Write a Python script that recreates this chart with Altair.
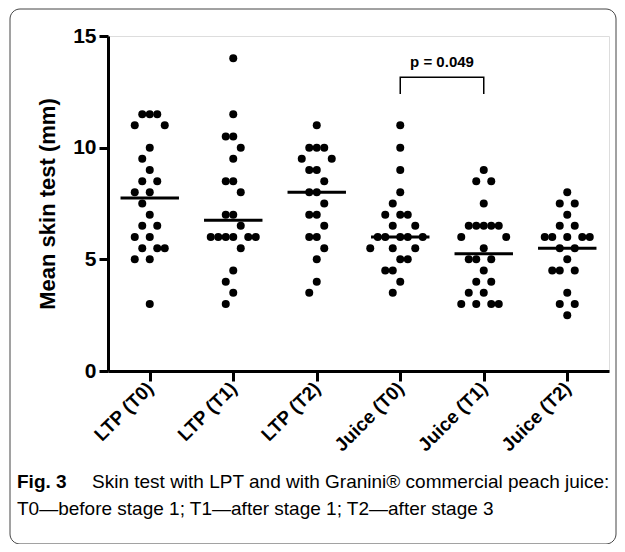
import json
import altair as alt
import pandas as pd

# ---------------- data ----------------
groups = ["LTP (T0)", "LTP (T1)", "LTP (T2)", "Juice (T0)", "Juice (T1)", "Juice (T2)"]

ltp_t0 = [11.5, 11.5, 11.5, 11, 11, 10, 9.5, 9, 8.5, 8.5, 8, 8, 7.5, 7, 6.5, 6.5,
          6, 6, 5.5, 5.5, 5.5, 5, 5, 3]
ltp_t1 = [14, 11.5, 10.5, 10.5, 10, 9.5, 8.5, 8.5, 8, 7, 7, 6.5, 6, 6, 6, 6, 6, 6,
          5.5, 4.5, 4, 3.5, 3]
ltp_t2 = [11, 10, 10, 10, 9.5, 9.5, 9, 9, 8.5, 8, 8, 7.5, 7, 7, 6.5, 6, 6, 5.5, 5,
          4, 3.5]
juice_t0 = [11, 10, 9, 8, 7.5, 7, 7, 7, 6.5, 6.5, 6, 6, 6, 6, 6, 5.5, 5.5, 5.5, 5, 5,
            4.5, 4.5, 4, 3.5]
juice_t1 = [9, 8.5, 8.5, 7.5, 6.5, 6.5, 6.5, 6.5, 6.5, 6, 6, 5.5, 5, 5, 5, 4.5, 4, 4,
            3.5, 3.5, 3, 3, 3, 3]
juice_t2 = [8, 7.5, 7.5, 7, 6.5, 6.5, 6, 6, 6, 6, 6, 5.5, 5.5, 5, 4.5, 4.5, 4.5, 3.5,
            3, 3, 2.5]
series = [ltp_t0, ltp_t1, ltp_t2, juice_t0, juice_t1, juice_t2]

medians = [7.75, 6.75, 8, 6, 5.25, 5.5]

p_label = "p = 0.049"
p_pair = [3, 4]            # Juice (T0) vs Juice (T1)
p_bracket = [12.4, 13.15]  # leg bottom, bracket top (mm)

y_ticks = [0, 5, 10, 15]
y_title = "Mean skin test (mm)"
caption_bold = "Fig. 3"
caption_1 = "Skin test with LPT and with Granini® commercial peach juice:"
caption_2 = "T0\u2014before stage 1; T1\u2014after stage 1; T2\u2014after stage 3"

# ---------------- layout ----------------
W, H = 501, 335
PX_X = W / len(groups)
PX_Y = H / 15.0
STEP, WX, WY = 7.5, 7.4, 16.0

rows = []
for gi, (g, vals) in enumerate(zip(groups, series)):
    placed = []
    for v in sorted(vals, reverse=True):
        cands = [0] + [s * i for i in range(1, 12) for s in (-1, 1)]
        dx = 0.0
        for c in cands:
            dx = c * STEP
            ok = True
            for (px, pv) in placed:
                a = (dx - px) / WX
                b = (v - pv) * PX_Y / WY
                if a * a + b * b < 1:
                    ok = False
                    break
            if ok:
                break
        placed.append((dx, v))
        rows.append({"group": g, "gi": gi, "xpos": gi + dx / PX_X, "value": v})
points = pd.DataFrame(rows)

med_df = pd.DataFrame({"group": groups, "gi": list(range(len(groups))), "median": medians})
med_df["x1"] = med_df["gi"] - 0.35
med_df["x2"] = med_df["gi"] + 0.35

br_df = pd.DataFrame({
    "x": [p_pair[0], p_pair[0], p_pair[1], p_pair[1]],
    "y": [p_bracket[0], p_bracket[1], p_bracket[1], p_bracket[0]],
    "o": [0, 1, 2, 3],
})
pt_df = pd.DataFrame({"x": [sum(p_pair) / 2], "y": [p_bracket[1] + 0.45], "t": [p_label]})

FONT = "Liberation Sans"
label_expr = json.dumps(groups) + "[datum.value]"

xs = alt.Scale(domain=[-0.5, len(groups) - 0.5], nice=False, zero=False)
ys = alt.Scale(domain=[0, 15], nice=False)

x_axis = alt.Axis(values=list(range(len(groups))), labelExpr=label_expr, title=None,
                  grid=False, labelAngle=-45, labelAlign="right", labelBaseline="middle",
                  labelFontSize=19, labelFontWeight="bold", labelFont=FONT, labelColor="black",
                  tickSize=10, tickWidth=3, tickColor="black", domainWidth=3,
                  domainColor="black", labelPadding=4)
y_axis = alt.Axis(values=y_ticks, title=y_title, grid=False, labelFontSize=21,
                  labelFontWeight="bold", labelFont=FONT, labelColor="black",
                  tickSize=9, tickWidth=3, tickColor="black", domainWidth=3,
                  domainColor="black", titleFontSize=22, titleFont=FONT,
                  titleFontWeight="bold", titleColor="black", titlePadding=13, labelPadding=3)

dots = alt.Chart(points).mark_circle(size=64, color="black", opacity=1).encode(
    x=alt.X("xpos:Q", scale=xs, axis=x_axis),
    y=alt.Y("value:Q", scale=ys, axis=y_axis),
)

med = alt.Chart(med_df).mark_rule(color="black", strokeWidth=3).encode(
    x=alt.X("x1:Q", scale=xs), x2="x2:Q", y=alt.Y("median:Q", scale=ys)
)

bracket = alt.Chart(br_df).mark_line(color="black", strokeWidth=1.5).encode(
    x=alt.X("x:Q", scale=xs), y=alt.Y("y:Q", scale=ys), order="o:Q"
)

ptext = alt.Chart(pt_df).mark_text(fontSize=15, fontWeight="bold", font=FONT,
                                   baseline="alphabetic", color="black").encode(
    x=alt.X("x:Q", scale=xs), y=alt.Y("y:Q", scale=ys), text="t:N"
)

one = pd.DataFrame({"k": [0]})
frame = alt.Chart(one).mark_rect(filled=False, stroke="#444", strokeWidth=1,
                                 cornerRadius=10).encode(
    x=alt.value(-98), x2=alt.value(508), y=alt.value(-27), y2=alt.value(508)
)
cap_b = alt.Chart(one).mark_text(text=caption_bold, align="left", baseline="alphabetic",
                                 fontSize=19, fontWeight="bold", font=FONT,
                                 color="black").encode(x=alt.value(-91), y=alt.value(452))
cap_1 = alt.Chart(one).mark_text(text=caption_1, align="left", baseline="alphabetic",
                                 fontSize=19, font=FONT, color="black").encode(
    x=alt.value(-16), y=alt.value(452))
cap_2 = alt.Chart(one).mark_text(text=caption_2, align="left", baseline="alphabetic",
                                 fontSize=19, font=FONT, color="black").encode(
    x=alt.value(-91), y=alt.value(479))

chart = alt.layer(frame, dots, med, bracket, ptext, cap_b, cap_1, cap_2).properties(
    width=W, height=H,
    padding={"left": 100, "top": 28, "right": 8, "bottom": 173},
    autosize=alt.AutoSizeParams(type="none"),
).configure_view(stroke=None).configure(background="white")

chart.save("out.html", embed_options={"renderer": "svg", "actions": False})
